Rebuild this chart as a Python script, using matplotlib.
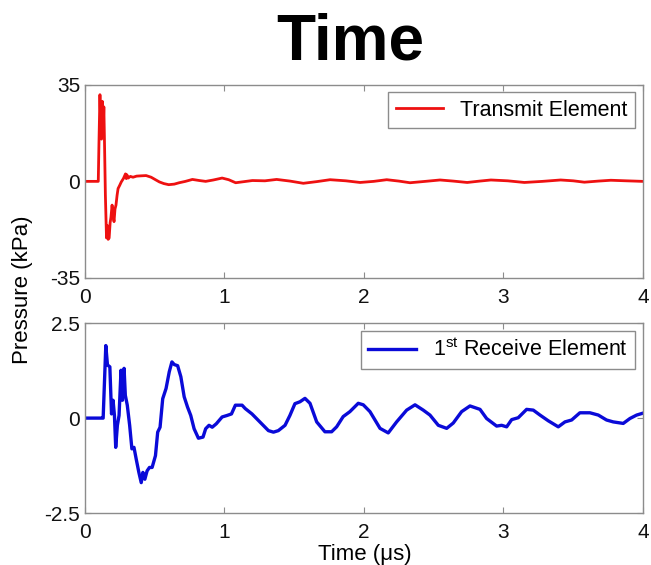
import matplotlib
matplotlib.use("Agg")
import matplotlib.pyplot as plt

plt.rcParams.update({
    'font.family': ['Liberation Sans', 'DejaVu Sans'],
    'mathtext.fontset': 'custom',
    'mathtext.rm': 'Liberation Sans',
    'mathtext.it': 'Liberation Sans:italic',
    'axes.unicode_minus': False,
})

# transmit element pressure (kPa) vs time (us)
t_tx = [0.0, 0.095, 0.100, 0.107, 0.112, 0.118, 0.124, 0.130, 0.135, 0.140,
        0.146, 0.154, 0.160, 0.166, 0.173, 0.180, 0.186, 0.194, 0.200, 0.208,
        0.215, 0.222, 0.230, 0.237, 0.248, 0.260, 0.275, 0.290, 0.296, 0.300,
        0.310, 0.325, 0.344, 0.370, 0.400, 0.438, 0.474, 0.505, 0.533, 0.565,
        0.600, 0.640, 0.675, 0.720, 0.770, 0.820, 0.865, 0.920, 0.983, 1.030,
        1.080, 1.140, 1.200, 1.290, 1.374, 1.470, 1.565, 1.660, 1.757, 1.870,
        1.972, 2.070, 2.163, 2.250, 2.330, 2.440, 2.545, 2.640, 2.740, 2.830,
        2.910, 3.030, 3.150, 3.280, 3.410, 3.500, 3.580, 3.680, 3.770, 3.880,
        4.000]
p_tx = [0.0, 0.0, 14.0, 31.4, 22.0, 15.3, 29.0, 18.0, 27.0, 13.0,
        -5.0, -20.5, -16.0, -21.0, -20.5, -15.0, -13.0, -8.6, -12.0, -14.6,
        -10.0, -8.6, -5.0, -2.6, -1.5, -0.2, 1.0, 2.7, 1.0, 2.4,
        1.2, 1.8, 1.5, 1.9, 2.0, 2.1, 1.5, 0.6, -0.2, -0.8,
        -1.2, -1.0, -0.5, 0.0, 0.7, 0.3, 0.0, 0.5, 1.2, 0.6,
        -0.5, -0.1, 0.3, 0.2, 0.7, 0.1, -0.7, -0.1, 0.6, 0.2,
        -0.4, 0.0, 0.6, 0.1, -0.5, 0.0, 0.5, 0.1, -0.4, 0.1,
        0.5, 0.2, -0.4, 0.0, 0.5, 0.2, -0.3, 0.1, 0.4, 0.2,
        0.0]

# first receive element pressure (kPa) vs time (us)
t_rx = [0.0, 0.126, 0.130, 0.149, 0.161, 0.178, 0.190, 0.201, 0.211, 0.220,
        0.232, 0.244, 0.258, 0.268, 0.280, 0.289, 0.303, 0.320, 0.336, 0.351,
        0.367, 0.386, 0.403, 0.415, 0.429, 0.445, 0.462, 0.481, 0.505, 0.521,
        0.538, 0.557, 0.581, 0.604, 0.623, 0.640, 0.664, 0.687, 0.711, 0.735,
        0.758, 0.782, 0.813, 0.846, 0.865, 0.889, 0.912, 0.941, 0.983, 1.019,
        1.050, 1.078, 1.126, 1.149, 1.197, 1.256, 1.315, 1.351, 1.386, 1.434,
        1.469, 1.505, 1.541, 1.577, 1.613, 1.661, 1.720, 1.768, 1.804, 1.851,
        1.899, 1.959, 1.995, 2.043, 2.115, 2.174, 2.234, 2.306, 2.366, 2.425,
        2.473, 2.533, 2.593, 2.640, 2.700, 2.760, 2.832, 2.879, 2.951, 2.987,
        3.023, 3.059, 3.106, 3.166, 3.214, 3.262, 3.321, 3.393, 3.441, 3.489,
        3.548, 3.620, 3.680, 3.739, 3.787, 3.859, 3.907, 3.955, 4.000]
p_rx = [0.0, 0.0, 0.0, 1.91, 1.40, 1.35, 0.11, 0.47, 0.07, -0.77,
        -0.19, 0.07, 1.26, 0.47, 1.31, 0.60, 0.34, -0.19, -0.81, -0.77,
        -1.08, -1.43, -1.70, -1.43, -1.61, -1.39, -1.30, -1.30, -0.99, -0.37,
        -0.24, 0.51, 0.78, 1.22, 1.48, 1.41, 1.38, 1.09, 0.56, 0.29,
        0.07, -0.28, -0.53, -0.50, -0.28, -0.19, -0.24, -0.15, 0.03, 0.07,
        0.11, 0.34, 0.34, 0.25, 0.11, -0.11, -0.33, -0.37, -0.33, -0.19,
        0.07, 0.38, 0.43, 0.52, 0.39, -0.10, -0.36, -0.36, -0.23, 0.04,
        0.17, 0.39, 0.35, 0.17, -0.27, -0.39, -0.10, 0.21, 0.35, 0.21,
        0.08, -0.19, -0.27, -0.13, 0.17, 0.32, 0.23, -0.01, -0.21, -0.19,
        -0.23, -0.04, 0.01, 0.23, 0.21, 0.08, -0.07, -0.23, -0.10, -0.05,
        0.14, 0.14, 0.08, -0.05, -0.10, -0.14, -0.01, 0.08, 0.13]

x_ticks = [0, 1, 2, 3, 4]
y_ticks_tx = [-35, 0, 35]
y_ticks_rx = [-2.5, 0, 2.5]
y_labels_rx = ['-2.5', '0', '2.5']

fig = plt.figure(figsize=(6.51, 5.65), dpi=100)
ax1 = fig.add_axes([0.1306, 0.508, 0.857, 0.342])
ax2 = fig.add_axes([0.1306, 0.092, 0.857, 0.336])

ax1.plot(t_tx, p_tx, color='#ee1111', lw=2.0, label='Transmit Element')
ax2.plot(t_rx, p_rx, color='#0a0ad8', lw=2.4, label=r'1$^{\mathrm{st}}$ Receive Element')

for ax in (ax1, ax2):
    ax.set_xlim(0, 4)
    ax.set_xticks(x_ticks)
    for s in ax.spines.values():
        s.set_color('#8c8c8c')
        s.set_linewidth(1.0)
    ax.tick_params(direction='in', top=True, right=True, color='#8c8c8c',
                   labelsize=15, labelcolor='#111111', length=4)
    ax.tick_params(axis='x', pad=7)
    leg = ax.legend(loc='upper right', fontsize=15.5, fancybox=False,
                    edgecolor='#8c8c8c', framealpha=1, handlelength=2.2,
                    borderaxespad=0.35, borderpad=0.35)
    leg.get_frame().set_linewidth(1.0)

ax1.set_ylim(-35, 35)
ax1.set_yticks(y_ticks_tx)
ax2.set_ylim(-2.5, 2.5)
ax2.set_yticks(y_ticks_rx)
ax2.set_yticklabels(y_labels_rx)

fig.text(0.538, 0.924, 'Time', fontsize=46, fontweight='bold', ha='center', va='center')
fig.text(0.034, 0.487, 'Pressure (kPa)', fontsize=16, rotation=90, ha='center', va='center')
fig.text(0.56, 0.018, 'Time (\u03bcs)', fontsize=16, ha='center', va='center')

fig.savefig('out.png', dpi=100)
